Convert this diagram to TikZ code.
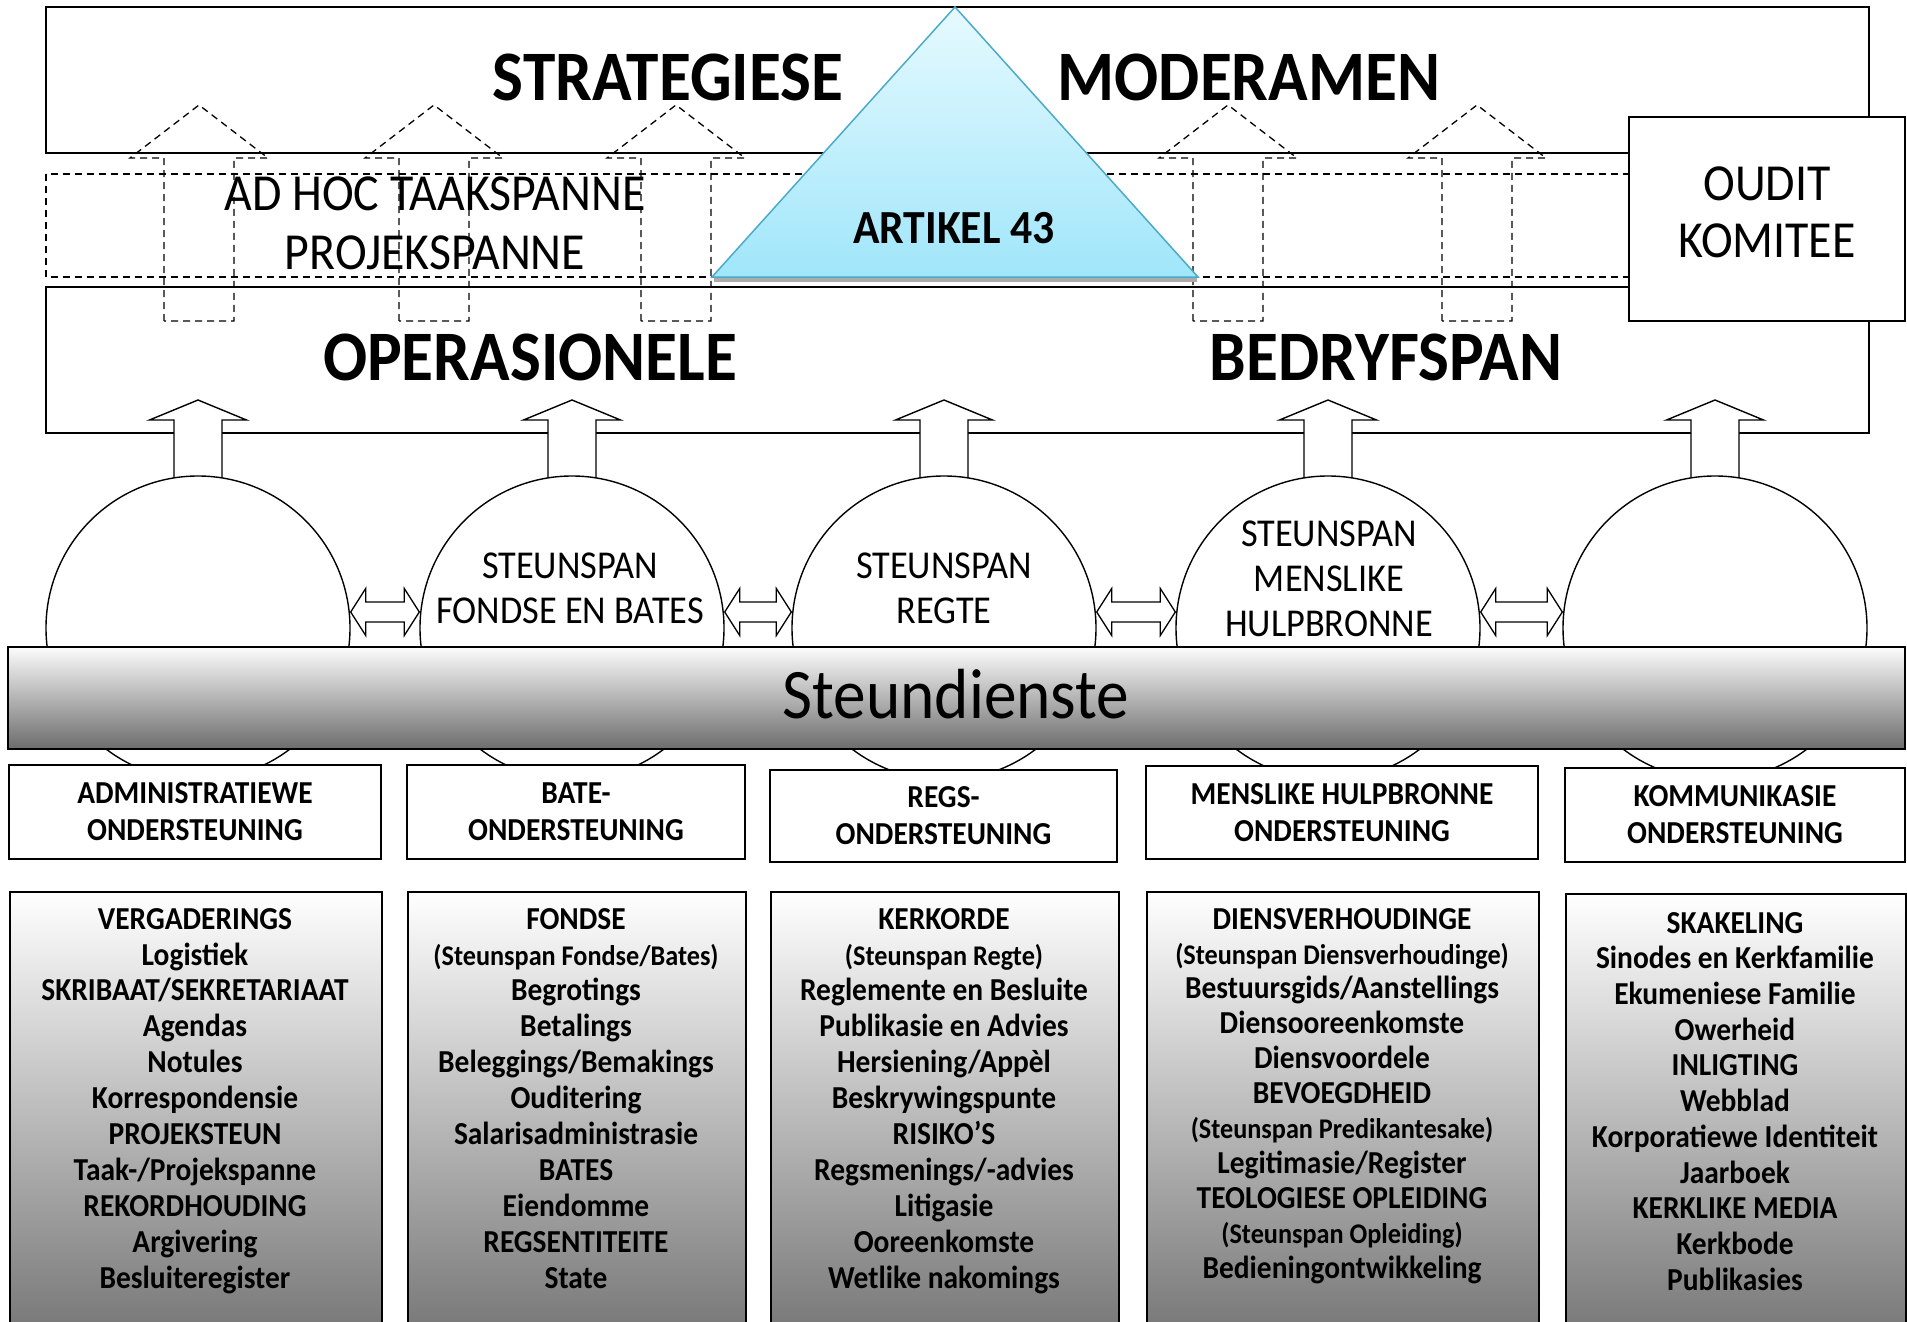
\documentclass[tikz,border=0pt]{standalone}
\usepackage{fontspec}
\setmainfont{Carlito}[FakeStretch=0.92]
\usetikzlibrary{calc}
\definecolor{tritop}{RGB}{230,250,255}
\definecolor{tribot}{RGB}{160,230,250}
\definecolor{triedge}{RGB}{75,170,200}
\definecolor{bantop}{RGB}{252,252,252}
\definecolor{banmid}{RGB}{200,200,200}
\definecolor{banbot}{RGB}{108,108,108}
\definecolor{botgray}{RGB}{122,122,122}
\newcommand{\smtxt}[1]{{\fontsize{28.5}{35}\selectfont #1}}
\begin{document}
\begin{tikzpicture}[x=1pt,y=-1pt,line join=miter,
  frame/.style={draw=black,line width=1.6pt},
  dashframe/.style={draw=black,line width=1.3pt,dash pattern=on 7pt off 5pt},
  titletxt/.style={font=\fontsize{71}{80}\selectfont\bfseries,inner sep=0pt,anchor=base},
  lighttxt/.style={font=\fontsize{52}{59}\selectfont,inner sep=0pt,align=center,anchor=north},
  circtxt/.style={font=\fontsize{39.5}{45}\selectfont,inner sep=0pt,align=center,anchor=north},
  circ/.style={circle,draw=black,line width=1.4pt,fill=white,minimum size=304pt,inner sep=0pt},
  blockarrow/.style={draw=black,line width=1.4pt,fill=white},
  dblarrow/.style={draw=black,line width=1.3pt,fill=white},
  midbox/.style={draw=black,line width=1.6pt,fill=white,inner sep=0pt,align=center,
    font=\fontsize{32}{37}\selectfont\bfseries},
  botbox/.style={draw=black,line width=1.6pt,top color=white,bottom color=botgray,
    inner sep=0pt,anchor=north west,minimum height=433pt},
  listtxt/.style={inner sep=0pt,align=center,anchor=north,font=\fontsize{32}{35.9}\selectfont\bfseries}]
\clip (0,0) rectangle (1907,1322);
\fill[white] (0,0) rectangle (1907,1322);

% --- frames ---
\draw[frame] (46,7) rectangle (1869,153);
\draw[dashframe] (46,174) rectangle (1629,277);
\draw[frame] (46,287) rectangle (1869,433);

% --- dashed up arrows (ad hoc teams) ---
\foreach \x in {199,434,676,1228,1477}
  \draw[dashframe] (\x-35,321) -- (\x-35,158) -- (\x-69,158) -- (\x,105)
    -- (\x+69,158) -- (\x+35,158) -- (\x+35,321) -- cycle;

% --- triangle ---
\fill[gray!65] (714,277) rectangle (1197,282);
\shade[top color=tritop,bottom color=tribot] (712,277) -- (955,7) -- (1198,277) -- cycle;
\draw[triedge,line width=1.5pt] (712,277) -- (955,7) -- (1198,277) -- cycle;
\node[font=\fontsize{47.5}{50}\selectfont\bfseries,inner sep=0pt,anchor=base] (art) at (954,243) {ARTIKEL 43};

% --- audit committee ---
\node[draw=black,line width=1.6pt,fill=white,minimum width=276pt,minimum height=204pt,inner sep=0pt] (oudit) at (1767,219) {};
\node[lighttxt,font=\fontsize{52}{57}\selectfont] (ouditlbl) at (1767,166.5) {OUDIT\\KOMITEE};

% --- titles ---
\node[titletxt] (strat) at (668,100) {STRATEGIESE};
\node[titletxt] (moder) at (1249,100) {MODERAMEN};
\node[titletxt] (oper) at (530,380) {OPERASIONELE};
\node[titletxt] (bedr) at (1386,380) {BEDRYFSPAN};
\node[lighttxt] (adhoc) at (435,177) {AD HOC TAAKSPANNE\\PROJEKSPANNE};

% --- circle positions ---
\coordinate (p1) at (198,628);
\coordinate (p2) at (572,628);
\coordinate (p3) at (944,628);
\coordinate (p4) at (1328,628);
\coordinate (p5) at (1715,628);

% --- up block arrows ---
\foreach \p in {p1,p2,p3,p4,p5}
  \draw[blockarrow] ($(\p)+(-24,-150)$) -- ++(0,-58) -- ++(-24.5,0) -- ++(48.5,-20)
    -- ++(48.5,20) -- ++(-24.5,0) -- ++(0,58);

% --- circles ---
\node[circ] (c1) at (p1) {};
\node[circ] (c2) at (p2) {};
\node[circ] (c3) at (p3) {};
\node[circ] (c4) at (p4) {};
\node[circ] (c5) at (p5) {};
\node[circtxt] (c2lbl) at (570,552.5) {STEUNSPAN\\FONDSE EN BATES};
\node[circtxt] (c3lbl) at (944,552.5) {STEUNSPAN\\REGTE};
\node[circtxt] (c4lbl) at (1329,520.5) {STEUNSPAN\\MENSLIKE\\HULPBRONNE};

% --- double arrows between circles ---
\foreach \a/\b in {c1/c2,c2/c3,c3/c4,c4/c5}
  \draw[dblarrow] let \p1=($(\a.east)+(0,-16)$), \p2=($(\b.west)+(0,-16)$) in
    (\p1) -- (\x1+15pt,\y1+23.5pt) -- (\x1+15pt,\y1+10pt) -- (\x2-15pt,\y1+10pt)
    -- (\x2-15pt,\y1+23.5pt) -- (\p2) -- (\x2-15pt,\y1-23.5pt) -- (\x2-15pt,\y1-10pt)
    -- (\x1+15pt,\y1-10pt) -- (\x1+15pt,\y1-23.5pt) -- cycle;

% --- banner ---
\shade[top color=bantop,middle color=banmid,bottom color=banbot] (8,647) rectangle (1905,749);
\draw[frame] (8,647) rectangle (1905,749);
\node[font=\fontsize{71}{80}\selectfont,inner sep=0pt,anchor=base] (steun) at (956,718) {Steundienste};

% --- middle boxes ---
\node[midbox,minimum width=372pt,minimum height=94pt] (m1) at (195,812) {ADMINISTRATIEWE\\ONDERSTEUNING};
\node[midbox,minimum width=338pt,minimum height=94pt] (m2) at (576,812) {BATE-\\ONDERSTEUNING};
\node[midbox,minimum width=347pt,minimum height=92pt] (m3) at (943.5,816) {REGS-\\ONDERSTEUNING};
\node[midbox,minimum width=392pt,minimum height=93pt] (m4) at (1342,812.5) {MENSLIKE HULPBRONNE\\ONDERSTEUNING};
\node[midbox,minimum width=340pt,minimum height=94pt] (m5) at (1735,815) {KOMMUNIKASIE\\ONDERSTEUNING};

% --- bottom boxes ---
\node[botbox,minimum width=372pt] (b1) at (9,891) {};
\node[botbox,minimum width=338pt] (b2) at (407,891) {};
\node[botbox,minimum width=348pt] (b3) at (770,891) {};
\node[botbox,minimum width=392pt] (b4) at (1146,891) {};
\node[botbox,minimum width=340pt] (b5) at (1565,893) {};

\node[listtxt] (l1) at (195,908) {VERGADERINGS\\Logistiek\\SKRIBAAT/SEKRETARIAAT\\Agendas\\Notules\\Korrespondensie\\PROJEKSTEUN\\Taak-/Projekspanne\\REKORDHOUDING\\Argivering\\Besluiteregister};
\node[listtxt] (l2) at (576,908) {FONDSE\\\smtxt{(Steunspan Fondse/Bates)}\\Begrotings\\Betalings\\Beleggings/Bemakings\\Ouditering\\Salarisadministrasie\\BATES\\Eiendomme\\REGSENTITEITE\\State};
\node[listtxt] (l3) at (944,908) {KERKORDE\\\smtxt{(Steunspan Regte)}\\Reglemente en Besluite\\Publikasie en Advies\\Hersiening/Appèl\\Beskrywingspunte\\RISIKO’S\\Regsmenings/-advies\\Litigasie\\Ooreenkomste\\Wetlike nakomings};
\node[listtxt,font=\fontsize{32}{34.9}\selectfont\bfseries] (l4) at (1342,908) {DIENSVERHOUDINGE\\\smtxt{(Steunspan Diensverhoudinge)}\\Bestuursgids/Aanstellings\\Diensooreenkomste\\Diensvoordele\\BEVOEGDHEID\\\smtxt{(Steunspan Predikantesake)}\\Legitimasie/Register\\TEOLOGIESE OPLEIDING\\\smtxt{(Steunspan Opleiding)}\\Bedieningontwikkeling};
\node[listtxt,font=\fontsize{32}{35.7}\selectfont\bfseries] (l5) at (1735,912) {SKAKELING\\Sinodes en Kerkfamilie\\Ekumeniese Familie\\Owerheid\\INLIGTING\\Webblad\\Korporatiewe Identiteit\\Jaarboek\\KERKLIKE MEDIA\\Kerkbode\\Publikasies};
\end{tikzpicture}
\end{document}
